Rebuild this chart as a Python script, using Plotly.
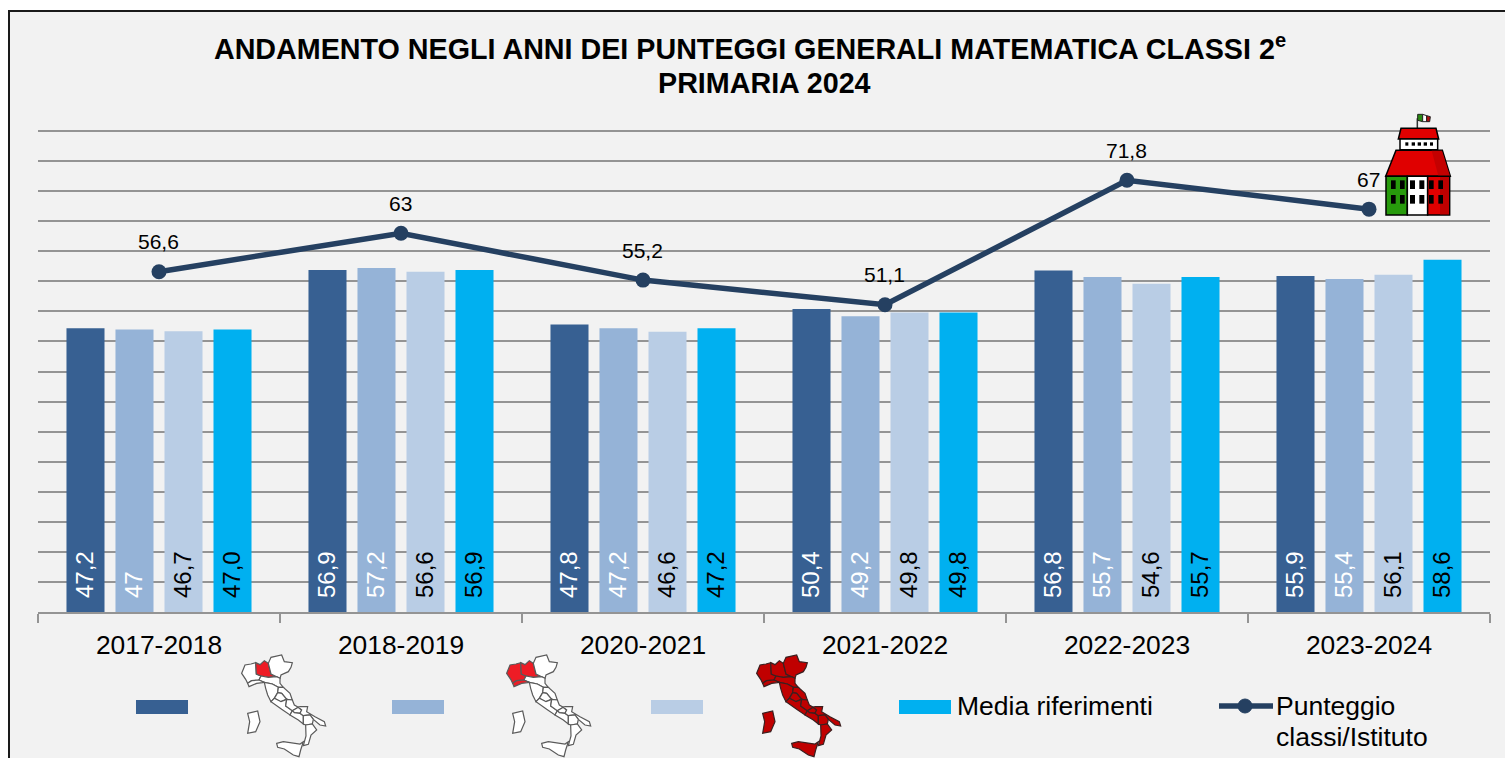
import plotly.graph_objects as go

# ---- data ----
years = ["2017-2018", "2018-2019", "2020-2021", "2021-2022", "2022-2023", "2023-2024"]
lombardia = [47.2, 56.9, 47.8, 50.4, 56.8, 55.9]
nord_ovest = [47.0, 57.2, 47.2, 49.2, 55.7, 55.4]
italia = [46.7, 56.6, 46.6, 49.8, 54.6, 56.1]
media = [47.0, 56.9, 47.2, 49.8, 55.7, 58.6]
punteggio = [56.6, 63.0, 55.2, 51.1, 71.8, 67.0]
lombardia_labels = ["47,2", "56,9", "47,8", "50,4", "56,8", "55,9"]
nord_ovest_labels = ["47", "57,2", "47,2", "49,2", "55,7", "55,4"]
italia_labels = ["46,7", "56,6", "46,6", "49,8", "54,6", "56,1"]
media_labels = ["47,0", "56,9", "47,2", "49,8", "55,7", "58,6"]
punteggio_labels = ["56,6", "63", "55,2", "51,1", "71,8", "67"]
title_line_1 = "<b>ANDAMENTO NEGLI ANNI DEI PUNTEGGI GENERALI MATEMATICA CLASSI 2<sup>e</sup></b>"
title_line_2 = "<b>PRIMARIA 2024</b>"

W, H = 1505, 758
L, R, T, B = 38, 1490, 129, 612
Y_TOP = 80.333
FONT = "Liberation Sans, Arial, sans-serif"
DARK, MID, LIGHT, CYAN, LINE = "#376092", "#95B3D7", "#B9CDE5", "#00B0F0", "#254061"
GRID = "#949494"

def px(x):
    return (x - L) / (R - L)

def py(y):
    return (B - y) / (B - T)

def path(pts):
    return "M" + "L".join(f"{px(x):.5f},{py(y):.5f}" for x, y in pts) + "Z"

shapes = []

def poly(pts, fill, line="rgba(0,0,0,0)", width=0, layer="above"):
    shapes.append(dict(type="path", xref="paper", yref="paper", path=path(pts), fillcolor=fill,
                       line=dict(color=line, width=width), layer=layer))

def rect(x0, y0, x1, y1, fill, line="rgba(0,0,0,0)", width=0, layer="above"):
    poly([(x0, y0), (x1, y0), (x1, y1), (x0, y1)], fill, line, width, layer)

# chart panel
rect(9, 11, 1520, 780, "#F2F2F2", "#1a1a1a", 2, "below")

# ---- map of Italy (decorative legend key), outline traced in 1/3 px units ----
REGIONS = {
    "piemonte": [(20, 70), (30, 45), (48, 42), (62, 38), (64, 72), (78, 78), (72, 90), (50, 92), (38, 100), (32, 88)],
    "lombardia": [(62, 38), (75, 44), (88, 32), (100, 40), (108, 72), (125, 80), (100, 82), (78, 78), (64, 72)],
    "veneto": [(100, 40), (108, 22), (140, 15), (148, 35), (172, 38), (168, 52), (160, 65), (138, 75), (135, 85), (125, 80), (108, 72)],
    "emilia": [(78, 78), (100, 82), (125, 80), (135, 85), (135, 100), (145, 112), (130, 112), (112, 102), (88, 97), (72, 90)],
    "liguria": [(38, 100), (50, 92), (72, 90), (88, 97), (65, 100), (42, 110)],
    "toscana": [(88, 97), (112, 102), (130, 112), (128, 128), (118, 145), (108, 155), (98, 135), (92, 115)],
    "marche": [(130, 112), (145, 112), (165, 130), (172, 150), (155, 148), (140, 130), (128, 128)],
    "umbria": [(128, 128), (140, 130), (155, 148), (138, 155), (118, 145)],
    "lazio": [(108, 155), (118, 145), (138, 155), (155, 148), (152, 168), (172, 182), (165, 195), (140, 178)],
    "abruzzo": [(155, 148), (172, 150), (178, 165), (190, 172), (172, 182), (152, 168)],
    "molise": [(172, 182), (190, 172), (200, 180), (195, 190), (178, 188)],
    "campania": [(165, 195), (172, 182), (178, 188), (195, 190), (205, 197), (205, 222), (190, 210)],
    "puglia": [(190, 172), (195, 170), (218, 170), (215, 185), (240, 200), (268, 215), (272, 228), (255, 225), (235, 208), (225, 195), (205, 197), (195, 190), (200, 180)],
    "basilicata": [(205, 197), (225, 195), (235, 208), (232, 222), (212, 225), (205, 222)],
    "calabria": [(212, 225), (232, 222), (245, 240), (228, 255), (220, 283), (205, 287), (213, 258)],
    "sicilia": [(125, 280), (145, 275), (195, 282), (205, 275), (197, 300), (192, 320), (175, 315), (148, 297), (128, 292)],
    "sardegna": [(38, 190), (68, 183), (75, 215), (62, 245), (38, 250), (44, 215)],
}

def italy(ox, oy, fills, default, edge):
    for name, pts in REGIONS.items():
        poly([(ox + x / 3, oy + y / 3) for x, y in pts], fills.get(name, default), edge, 1.2)

italy(235, 650, {"lombardia": "#EE1C25"}, "#FFFFFF", "#5a5a5a")
italy(500, 650, {"lombardia": "#EE1C25", "piemonte": "#EE1C25", "liguria": "#EE1C25"}, "#FFFFFF", "#5a5a5a")
italy(750, 650, {}, "#C00000", "#3a2020")

# ---- school building icon ----
def bx(x):
    return 1375 + x / 3

def by(y):
    return 105 + y / 3

def bpoly(pts, fill, line="#000000", width=1.5):
    poly([(bx(x), by(y)) for x, y in pts], fill, line, width)

def brect(x0, y0, x1, y1, fill, line="#000000", width=1.5):
    bpoly([(x0, y0), (x1, y0), (x1, y1), (x0, y1)], fill, line, width)

bpoly([(127, 70), (127, 40)], "rgba(0,0,0,0)", "#333333", 1.5)
bpoly([(128, 28), (143, 28), (143, 50), (128, 46)], "#2A8A12", "#222222", 1)
bpoly([(143, 28), (155, 32), (155, 50), (143, 50)], "#FFFFFF", "#222222", 1)
bpoly([(155, 32), (166, 35), (164, 50), (155, 50)], "#B01010", "#222222", 1)
bpoly([(78, 70), (183, 70), (191, 102), (70, 102)], "#E00000")
brect(75, 102, 188, 134, "#FFFFFF")
for x0, x1 in [(91, 100), (110, 120), (128, 138), (146, 156), (165, 174)]:
    brect(x0, 112, x1, 122, "#000000", width=0)
bpoly([(63, 136), (202, 136), (226, 214), (32, 214)], "#E00000")
bpoly([(170, 137), (201, 137), (225, 213), (190, 213)], "#C40000", "rgba(0,0,0,0)", 0)
brect(33, 214, 97, 330, "#279A0C")
brect(97, 214, 158, 330, "#FFFFFF")
brect(158, 214, 224, 330, "#E00000")
brect(195, 216, 222, 328, "#BE0000", "rgba(0,0,0,0)", 0)
for y0, y1 in [(226, 252), (270, 296)]:
    for x0, x1 in [(48, 62), (75, 89), (105, 120), (133, 148), (162, 176), (190, 204)]:
        brect(x0, y0, x1, y1, "#000000", width=0)

# ---- legend keys ----
rect(136, 700, 188, 714, DARK)
rect(392, 700, 444, 714, MID)
rect(651, 700, 703, 714, LIGHT)
rect(899, 700, 951, 714, CYAN)
shapes.append(dict(type="line", xref="paper", yref="paper", x0=px(1219), x1=px(1273), y0=py(706), y1=py(706),
                   line=dict(color=LINE, width=5.5)))
shapes.append(dict(type="circle", xref="paper", yref="paper", x0=px(1238), x1=px(1252), y0=py(699), y1=py(713),
                   fillcolor=LINE, line=dict(color=LINE, width=1)))

fig = go.Figure()
annotations = []

def bars(name, values, labels, color, text_color, slot):
    fig.add_trace(go.Bar(x=years, y=values, name=name, marker=dict(color=color, line=dict(width=0))))
    for year, label in zip(years, labels):
        annotations.append(dict(
            x=year, y=0, xref="x", yref="y", text=label, showarrow=False, textangle=-90,
            xanchor="center", yanchor="bottom", xshift=(slot - 1.5) * 49 - 1, yshift=12,
            font=dict(family=FONT, size=24, color=text_color),
        ))

bars("Lombardia", lombardia, lombardia_labels, DARK, "#FFFFFF", 0)
bars("Nord Ovest", nord_ovest, nord_ovest_labels, MID, "#FFFFFF", 1)
bars("Italia", italia, italia_labels, LIGHT, "#000000", 2)
bars("Media riferimenti", media, media_labels, CYAN, "#000000", 3)

fig.add_trace(go.Scatter(
    x=years, y=punteggio, name="Punteggio classi/Istituto", mode="lines+markers",
    line=dict(color=LINE, width=5.5), marker=dict(color=LINE, size=15),
))

annotations += [
    dict(x=x, y=y, text=t, showarrow=False, yshift=30, xshift=-0.5, xref="x", yref="y",
         font=dict(family=FONT, size=21, color="#000000"))
    for x, y, t in zip(years, punteggio, punteggio_labels)
]

def legend_text(x, y, text):
    annotations.append(dict(x=px(x), y=py(y), xref="paper", yref="paper", xanchor="left", yanchor="middle",
                            showarrow=False, text=text, font=dict(family=FONT, size=26.5, color="#000000")))

legend_text(955, 706, "Media riferimenti")
legend_text(1274, 706, "Punteggio")
legend_text(1274, 737, "classi/Istituto")

annotations.append(dict(x=px(764.5), y=py(83), xref="paper", yref="paper", xanchor="center", yanchor="middle",
                        showarrow=False, text=title_line_2, font=dict(family=FONT, size=28.7, color="#000000")))

fig.update_layout(
    width=W, height=H, autosize=False,
    margin=dict(l=L, r=W - R, t=T, b=H - B, pad=0),
    paper_bgcolor="#FFFFFF", plot_bgcolor="rgba(0,0,0,0)",
    barmode="group", bargap=0.19, bargroupgap=0.224, showlegend=False,
    title=dict(text=title_line_1, x=px(750), xref="paper", xanchor="center",
               y=1 - 49 / H, yref="container", yanchor="middle",
               font=dict(family=FONT, size=28.7, color="#000000")),
    xaxis=dict(type="category", tickson="boundaries", ticks="outside", ticklen=9, tickwidth=2, tickcolor=GRID,
               showline=True, linecolor=GRID, linewidth=2, showgrid=False, ticklabelstandoff=8,
               tickfont=dict(family=FONT, size=26.4, color="#000000")),
    yaxis=dict(range=[0, Y_TOP], dtick=5, showticklabels=False, ticks="", showgrid=True, gridcolor=GRID,
               gridwidth=2, zeroline=False, showline=False),
    shapes=shapes, annotations=annotations,
)

fig.write_html("out.html", config=dict(displayModeBar=False),
               post_script="document.body.style.margin='0';document.body.style.overflow='hidden';")
